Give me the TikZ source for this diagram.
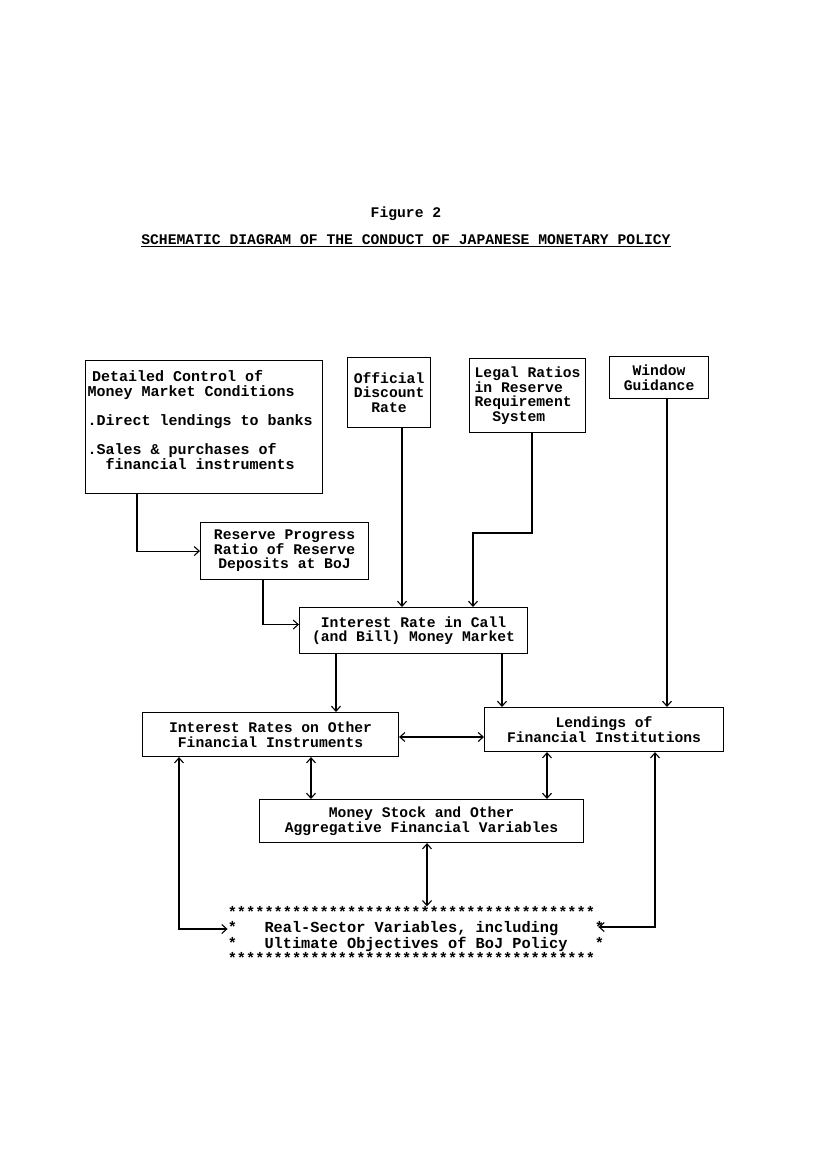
\documentclass[tikz,border=0pt]{standalone}
\usepackage{fontspec}
\newfontfamily\tw{Liberation Mono}
\usetikzlibrary{arrows.meta}
\begin{document}
\begin{tikzpicture}[x=1pt,y=-1pt,
  txt/.style={font={\tw\bfseries\fontsize{14.7}{14.6}\selectfont}},
  box/.style={txt,draw,line width=1.1pt,inner sep=0pt,anchor=north west,align=center},
  arr/.style={line width=1.1pt,-{Straight Barb[length=5pt,width=9pt]}},
  darr/.style={line width=1.1pt,{Straight Barb[length=5pt,width=9pt]}-{Straight Barb[length=5pt,width=9pt]}}]
\useasboundingbox[fill=white] (0,0) rectangle (827,1170);
\node[txt] (fig) at (406,214) {Figure 2};
\node[txt] (title) at (406,241) {\underline{SCHEMATIC DIAGRAM OF THE CONDUCT OF JAPANESE MONETARY POLICY}};
\node[box,align=left,minimum width=237pt,minimum height=133pt,
  font={\tw\bfseries\fontsize{15}{14.6}\selectfont}] (dc) at (85,360)
  {\hspace*{4.5pt}Detailed Control of\\Money Market Conditions\\[14.6pt].Direct lendings to banks\\[14.6pt].Sales \& purchases of\\~~financial instruments\\\hspace*{233pt}};
\node[box,minimum width=83pt,minimum height=70pt] (od) at (347,357) {Official\\Discount\\Rate};
\node[box,align=left,minimum width=116pt,minimum height=74pt] (lr) at (469,358) {Legal Ratios\\in Reserve\\Requirement\\~~System};
\node[box,minimum width=99pt,minimum height=42pt] (wg) at (609,356) {Window\\Guidance};
\node[box,minimum width=168pt,minimum height=57pt] (rp) at (200,522) {Reserve Progress\\Ratio of Reserve\\Deposits at BoJ};
\node[box,minimum width=228pt,minimum height=46pt] (ic) at (299,607) {Interest Rate in Call\\(and Bill) Money Market};
\node[box,minimum width=256pt,minimum height=44pt] (io) at (142,712) {Interest Rates on Other\\Financial Instruments};
\node[box,minimum width=239pt,minimum height=44pt] (lf) at (484,707) {Lendings of\\Financial Institutions};
\node[box,minimum width=324pt,minimum height=43pt] (ms) at (259,799) {Money Stock and Other\\Aggregative Financial Variables};
\node[txt,inner sep=0pt,align=left,font={\tw\bfseries\fontsize{15.3}{15.3}\selectfont}] (rs) at (416,935)
  {****************************************\\
   *~~~Real-Sector Variables, including~~~~*\\
   *~~~Ultimate Objectives of BoJ Policy~~~*\\
   ****************************************};
\draw[arr] (137,0 |- dc.south) |- (rp.west);
\draw[arr] (263,0 |- rp.south) |- ([yshift=6pt]ic.west);
\draw[arr] (402,0 |- od.south) -- (402,0 |- ic.north);
\draw[arr] (532,0 |- lr.south) -- (532,533) -- (473,533) -- (473,0 |- ic.north);
\draw[arr] (667,0 |- wg.south) -- (667,0 |- lf.north);
\draw[arr] (336,0 |- ic.south) -- (336,0 |- io.north);
\draw[arr] (502,0 |- ic.south) -- (502,0 |- lf.north);
\draw[darr] (io.east |- 0,737) -- (lf.west |- 0,737);
\draw[darr] (311,0 |- io.south) -- (311,0 |- ms.north);
\draw[darr] (547,0 |- lf.south) -- (547,0 |- ms.north);
\draw[darr] (427,0 |- ms.south) -- (427,0 |- rs.north);
\draw[darr] (179,0 |- io.south) |- ([yshift=6pt]rs.west);
\draw[darr] (655,0 |- lf.south) |- ([yshift=8pt,xshift=-6pt]rs.east);
\end{tikzpicture}
\end{document}
